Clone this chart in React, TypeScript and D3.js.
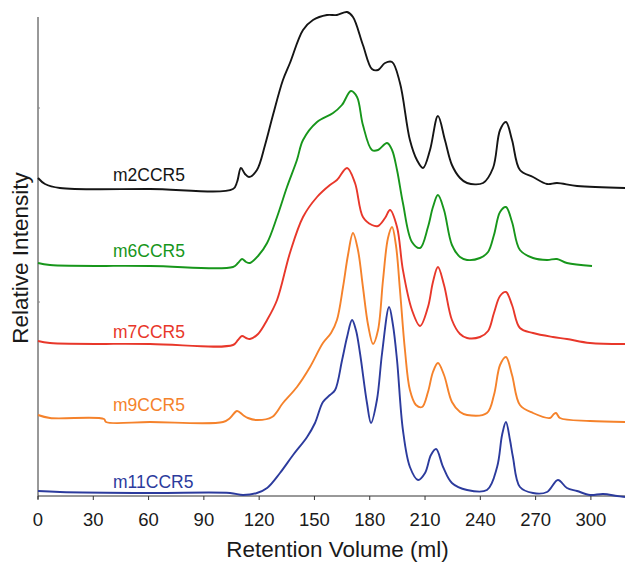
import React from 'react';
import * as d3 from 'd3';

// retention volume (ml) and relative intensity
const m2Vol = [0, 3.8, 11.9, 60.8, 105.8, 108, 110.1, 112.3, 114.5, 118.8, 123.2, 127.5, 132.9, 136.7, 143.8, 149.2, 156.8, 162.2, 167.7, 170.9, 176.3, 181.2, 184.5, 188.3, 192.1, 196.4, 201.8, 205.6, 208.9, 212.7, 217.0, 220.8, 224.6, 229.0, 232.8, 241.5, 246.9, 250.7, 253.9, 257.2, 261.5, 268.6, 276.2, 281.6, 292.5, 318.5];
const m2Int = [31.8, 31.2, 30.8, 30.7, 30.7, 31.4, 32.8, 32.2, 31.9, 32.6, 35.1, 38.1, 41.6, 43.3, 46.6, 47.6, 48.1, 48.1, 48.4, 47.9, 45.1, 42.7, 42.6, 43.3, 43.4, 41.3, 35.6, 33.6, 32.8, 34.6, 38.0, 35.6, 33.1, 31.8, 31.3, 31.3, 32.8, 36.6, 37.4, 35.6, 32.6, 31.9, 31.2, 31.3, 31.0, 30.8];

const m6Vol = [0, 6.5, 60.8, 105.8, 108.5, 110.7, 112.9, 115.0, 119.4, 124.3, 129.7, 135.1, 140.5, 143.8, 151.4, 160.1, 164.9, 169.8, 173.1, 176.3, 181.2, 184.5, 189.4, 192.1, 194.8, 198.0, 202.9, 207.3, 211.6, 214.3, 217.0, 220.3, 224.6, 229.0, 232.8, 239.8, 244.2, 247.4, 250.7, 253.9, 257.2, 261.5, 268.6, 276.2, 281.6, 287.0, 300.6];
const m6Int = [23.3, 23.1, 23.0, 22.9, 23.3, 23.7, 23.4, 23.3, 24.0, 25.3, 27.9, 30.9, 33.6, 35.6, 37.4, 38.3, 39.1, 40.5, 39.9, 37.1, 34.6, 34.6, 35.3, 34.6, 32.6, 29.3, 25.4, 24.8, 26.9, 28.9, 30.1, 28.6, 25.1, 23.9, 23.6, 23.8, 24.4, 26.1, 28.4, 28.9, 27.4, 24.6, 23.8, 23.6, 23.7, 23.3, 23.0];

const m7Vol = [0, 6.5, 60.8, 105.8, 108.5, 110.7, 112.9, 115.0, 119.4, 124.3, 129.7, 136.7, 143.8, 151.4, 158.4, 162.2, 167.7, 172.0, 176.3, 181.2, 184.5, 188.3, 191.0, 194.8, 198.0, 202.9, 207.3, 211.6, 214.3, 217.0, 220.3, 224.6, 229.0, 232.8, 239.8, 244.2, 247.4, 250.7, 253.9, 257.2, 261.5, 268.6, 279.4, 287.0, 299.5, 318.5];
const m7Int = [15.5, 15.3, 15.2, 15.1, 15.6, 16.0, 15.8, 15.7, 16.2, 17.6, 19.6, 24.3, 27.9, 29.9, 31.1, 31.6, 32.8, 31.3, 27.9, 27.1, 27.0, 27.8, 28.6, 26.9, 22.6, 18.6, 17.0, 18.9, 21.4, 22.9, 21.1, 17.6, 16.2, 15.8, 15.9, 16.5, 18.3, 20.0, 20.4, 19.1, 16.8, 16.3, 15.9, 15.7, 15.3, 15.2];

const m9Vol = [0, 6.5, 35.8, 36.9, 60.8, 100.4, 104.2, 108.0, 111.2, 113.9, 118.8, 127.0, 132.9, 140.5, 147.6, 154.6, 159.0, 162.2, 165.5, 168.2, 170.9, 173.6, 176.3, 179.1, 181.8, 184.5, 187.2, 189.9, 192.1, 194.2, 196.4, 199.1, 201.8, 205.1, 208.4, 211.6, 214.3, 217.0, 220.3, 224.6, 229.0, 232.8, 243.6, 247.4, 250.7, 253.9, 257.2, 261.5, 268.6, 277.8, 279.9, 281.1, 283.2, 299.5, 318.5];
const m9Int = [8.1, 7.8, 7.7, 7.4, 7.4, 7.4, 7.8, 8.5, 8.1, 7.8, 7.6, 7.9, 9.3, 10.9, 12.9, 15.3, 16.3, 17.6, 20.9, 24.1, 26.3, 24.6, 20.9, 17.1, 15.2, 16.6, 21.6, 25.8, 26.9, 25.1, 20.6, 14.6, 10.6, 9.1, 8.9, 10.4, 12.4, 13.3, 12.1, 9.4, 8.4, 8.1, 8.3, 10.1, 13.1, 13.9, 12.1, 9.1, 8.3, 7.8, 8.2, 8.3, 7.8, 7.5, 7.4];

const m11Vol = [0, 11.9, 60.8, 104.2, 111.2, 118.8, 124.3, 131.3, 138.4, 146.0, 150.3, 154.6, 158.4, 161.2, 165.0, 167.7, 170.4, 172.5, 174.7, 178.5, 180.7, 183.9, 186.7, 190.5, 192.6, 194.8, 198.0, 201.8, 206.2, 210.0, 213.2, 216.0, 219.8, 224.6, 232.8, 243.6, 249.1, 251.8, 253.9, 256.1, 257.7, 261.5, 268.6, 276.2, 282.1, 287.0, 292.5, 299.5, 306.6, 314.2, 318.5];
const m11Int = [0.5, 0.4, 0.3, 0.3, 0.1, 0.3, 0.8, 2.3, 4.1, 5.9, 7.3, 9.4, 10.1, 10.6, 13.6, 15.9, 17.6, 16.6, 14.3, 9.3, 7.3, 9.6, 14.3, 18.9, 17.1, 13.6, 6.6, 2.9, 1.6, 2.3, 4.1, 4.7, 2.9, 1.3, 0.6, 0.6, 2.9, 6.1, 7.4, 5.6, 3.9, 0.9, 0.3, 0.4, 1.6, 0.8, 0.5, 0.1, 0.2, 0.0, -0.1];

const seriesNames = ['m2CCR5', 'm6CCR5', 'm7CCR5', 'm9CCR5', 'm11CCR5'];
const seriesVols = [m2Vol, m6Vol, m7Vol, m9Vol, m11Vol];
const seriesInts = [m2Int, m6Int, m7Int, m9Int, m11Int];
const xTicks = [0, 30, 60, 90, 120, 150, 180, 210, 240, 270, 300];

const colors = ['#151515', '#17961b', '#e8372a', '#f5822b', '#2c3b9d'];
const labelOffsets = [7, 9, 6, 8, 5];

const W = 625;
const H = 564;

export default function App() {
  const x = d3.scaleLinear().domain([0, 318.5]).range([38, 625]);
  const y = d3.scaleLinear().domain([0, 47.9]).range([496, 17]);

  const line = d3
    .line<[number, number]>()
    .x((d) => x(d[0]))
    .y((d) => y(d[1]))
    .curve(d3.curveCatmullRom.alpha(0.5));

  const font = 'Liberation Sans, Arial, Helvetica, sans-serif';

  return (
    <svg
      width={W}
      height={H}
      viewBox={`0 0 ${W} ${H}`}
      style={{ position: 'absolute', left: 0, top: 0, background: '#fff' }}
      fontFamily={font}
    >
      {/* axes */}
      <line x1={x(0)} x2={x(0)} y1={y(47.9)} y2={y(0) + 3} stroke="#333" strokeWidth={1} />
      <line x1={x(0)} x2={x(318.5)} y1={y(0)} y2={y(0)} stroke="#333" strokeWidth={1} />
      {[19.4, 38.8].map((t) => (
        <line key={t} x1={x(0)} x2={x(0) + 2} y1={y(t)} y2={y(t)} stroke="#888" strokeWidth={1} />
      ))}
      {xTicks.map((t) => (
        <g key={t} transform={`translate(${x(t)},${y(0)})`}>
          <line y1={0} y2={4} stroke="#333" strokeWidth={1} />
          <text y={30} textAnchor="middle" fontSize={18.5} fill="#1a1a1a">
            {t}
          </text>
        </g>
      ))}

      {seriesNames.map((name, i) => {
        const pts: [number, number][] = seriesVols[i].map((v, j) => [v, seriesInts[i][j]]);
        return (
          <g key={name}>
            <path d={line(pts) || ''} fill="none" stroke={colors[i]} strokeWidth={1.9} strokeLinejoin="round" />
            <text
              x={x(40.7)}
              y={y(seriesInts[i][2]) - labelOffsets[i]}
              fontSize={17.5}
              fill={colors[i]}
            >
              {name}
            </text>
          </g>
        );
      })}

      <text x={(38 + 625) / 2 + 6} y={557} textAnchor="middle" fontSize={22.5} fill="#1a1a1a">
        Retention Volume (ml)
      </text>
      <text
        transform={`translate(28,258) rotate(-90)`}
        textAnchor="middle"
        fontSize={22.5}
        fill="#1a1a1a"
      >
        Relative Intensity
      </text>
    </svg>
  );
}
